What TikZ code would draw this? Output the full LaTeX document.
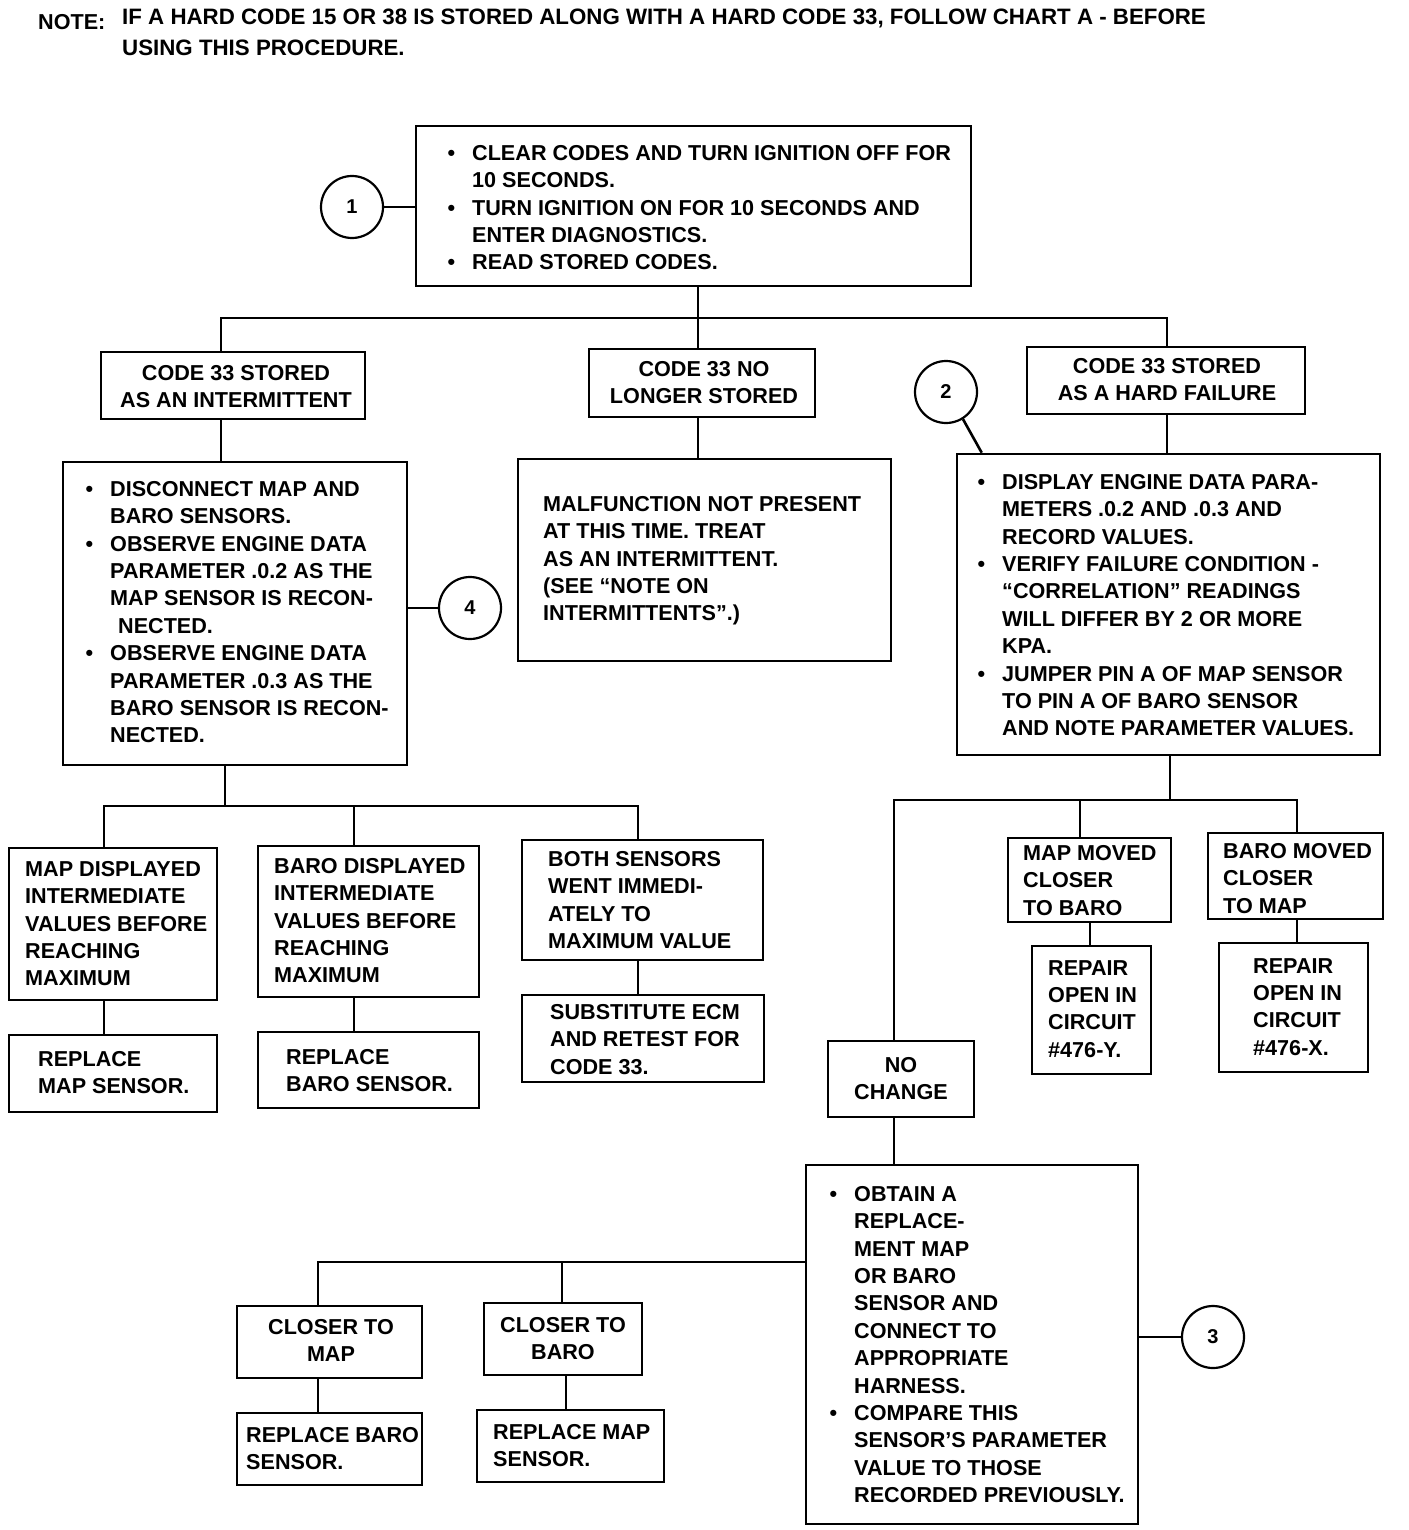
\documentclass[tikz,border=0pt]{standalone}
\usepackage{fontspec}
\setmainfont{Liberation Sans}
\usetikzlibrary{fit}
\newcommand\bul{\llap{\textbullet\hskip 17pt}}
\begin{document}
\begin{tikzpicture}[x=1pt,y=-1pt,
  box/.style={draw, line width=2.6pt, inner sep=0pt},
  wire/.style={line width=2.6pt},
  circ/.style={draw, circle, line width=2.2pt, minimum size=62pt, inner sep=0pt, font=\fontsize{20}{24}\selectfont\bfseries},
  txt/.style={anchor=north west, inner sep=0pt, align=left, font=\fontsize{21.6}{27.4}\selectfont\bfseries},
  ctxt/.style={anchor=north, inner sep=0pt, align=center, font=\fontsize{21.6}{27.4}\selectfont\bfseries}]
\useasboundingbox (0,0) rectangle (1408,1530);
\fill[white] (0,0) rectangle (1408,1530);

% note
\node[txt] (noteA) at (38,14) {NOTE:};
\node[txt, font=\fontsize{22.3}{31}\selectfont\bfseries] (noteB) at (122,9) {IF A HARD CODE 15 OR 38 IS STORED ALONG WITH A HARD CODE 33, FOLLOW CHART A - BEFORE\\USING THIS PROCEDURE.};

% top
\node[box, fit={(416,126) (971,286)}] (top) {};
\node[txt] (topT) at (472,145) {\bul CLEAR CODES AND TURN IGNITION OFF FOR\\10 SECONDS.\\\bul TURN IGNITION ON FOR 10 SECONDS AND\\ENTER DIAGNOSTICS.\\\bul READ STORED CODES.};
\node[circ] (c1) at (352,207) {1};

% level 1
\node[box, fit={(101,352) (365,419)}] (a1) {};
\node[ctxt] (a1T) at (236,365) {CODE 33 STORED\\AS AN INTERMITTENT};
\node[box, fit={(589,349) (815,417)}] (m1) {};
\node[ctxt] (m1T) at (704,361) {CODE 33 NO\\LONGER STORED};
\node[box, fit={(1027,347) (1305,414)}] (r1) {};
\node[ctxt] (r1T) at (1167,358) {CODE 33 STORED\\AS A HARD FAILURE};
\node[circ] (c2) at (946,392) {2};

% level 2
\node[box, fit={(63,462) (407,765)}] (a2) {};
\node[txt] (a2T) at (110,481) {\bul DISCONNECT MAP AND\\BARO SENSORS.\\\bul OBSERVE ENGINE DATA\\PARAMETER .0.2 AS THE\\MAP SENSOR IS RECON-\\\hskip 8pt NECTED.\\\bul OBSERVE ENGINE DATA\\PARAMETER .0.3 AS THE\\BARO SENSOR IS RECON-\\NECTED.};
\node[circ] (c4) at (470,608) {4};

\node[box, fit={(518,459) (891,661)}] (m2) {};
\node[txt] (m2T) at (543,496) {MALFUNCTION NOT PRESENT\\AT THIS TIME. TREAT\\AS AN INTERMITTENT.\\(SEE ``NOTE ON\\INTERMITTENTS''.)};

\node[box, fit={(957,454) (1380,755)}] (r2) {};
\node[txt] (r2T) at (1002,474) {\bul DISPLAY ENGINE DATA PARA-\\METERS .0.2 AND .0.3 AND\\RECORD VALUES.\\\bul VERIFY FAILURE CONDITION -\\``CORRELATION'' READINGS\\WILL DIFFER BY 2 OR MORE\\KPA.\\\bul JUMPER PIN A OF MAP SENSOR\\TO PIN A OF BARO SENSOR\\AND NOTE PARAMETER VALUES.};

% level 3 left
\node[box, fit={(9,848) (217,1000)}] (b1) {};
\node[txt] (b1T) at (25,861) {MAP DISPLAYED\\INTERMEDIATE\\VALUES BEFORE\\REACHING\\MAXIMUM};
\node[box, fit={(258,846) (479,997)}] (b2) {};
\node[txt] (b2T) at (274,858) {BARO DISPLAYED\\INTERMEDIATE\\VALUES BEFORE\\REACHING\\MAXIMUM};
\node[box, fit={(522,840) (763,960)}] (b3) {};
\node[txt] (b3T) at (548,851) {BOTH SENSORS\\WENT IMMEDI-\\ATELY TO\\MAXIMUM VALUE};

\node[box, fit={(9,1035) (217,1112)}] (d1) {};
\node[txt] (d1T) at (38,1051) {REPLACE\\MAP SENSOR.};
\node[box, fit={(258,1032) (479,1108)}] (d2) {};
\node[txt] (d2T) at (286,1049) {REPLACE\\BARO SENSOR.};
\node[box, fit={(522,995) (764,1082)}] (d3) {};
\node[txt] (d3T) at (550,1004) {SUBSTITUTE ECM\\AND RETEST FOR\\CODE 33.};

% level 3 right
\node[box, fit={(1008,838) (1171,922)}] (s1) {};
\node[txt] (s1T) at (1023,845) {MAP MOVED\\CLOSER\\TO BARO};
\node[box, fit={(1208,833) (1383,919)}] (s2) {};
\node[txt] (s2T) at (1223,843) {BARO MOVED\\CLOSER\\TO MAP};
\node[box, fit={(1032,946) (1151,1074)}] (t1) {};
\node[txt] (t1T) at (1048,960) {REPAIR\\OPEN IN\\CIRCUIT\\\#476-Y.};
\node[box, fit={(1219,943) (1368,1072)}] (t2) {};
\node[txt] (t2T) at (1253,958) {REPAIR\\OPEN IN\\CIRCUIT\\\#476-X.};

\node[box, fit={(828,1041) (974,1117)}] (nc) {};
\node[ctxt] (ncT) at (901,1057) {NO\\CHANGE};

\node[box, fit={(806,1165) (1138,1524)}] (r5) {};
\node[txt] (r5T) at (854,1186) {\bul OBTAIN A\\REPLACE-\\MENT MAP\\OR BARO\\SENSOR AND\\CONNECT TO\\APPROPRIATE\\HARNESS.\\\bul COMPARE THIS\\SENSOR'S PARAMETER\\VALUE TO THOSE\\RECORDED PREVIOUSLY.};
\node[circ] (c3) at (1213,1337) {3};

\node[box, fit={(237,1306) (422,1378)}] (e1) {};
\node[ctxt] (e1T) at (331,1319) {CLOSER TO\\MAP};
\node[box, fit={(484,1303) (642,1375)}] (e2) {};
\node[ctxt] (e2T) at (563,1317) {CLOSER TO\\BARO};
\node[box, fit={(237,1413) (422,1485)}] (f1) {};
\node[txt] (f1T) at (246,1427) {REPLACE BARO\\SENSOR.};
\node[box, fit={(477,1410) (664,1482)}] (f2) {};
\node[txt] (f2T) at (493,1424) {REPLACE MAP\\SENSOR.};

% junction coordinates
\coordinate (jT) at (698,318);
\coordinate (jTL) at (221,318);
\coordinate (jTR) at (1167,318);
\coordinate (jL) at (225,806);
\coordinate (jLa) at (104,806);
\coordinate (jLb) at (354,806);
\coordinate (jLc) at (638,806);
\coordinate (jR) at (1170,800);
\coordinate (jRa) at (894,800);
\coordinate (jRb) at (1080,800);
\coordinate (jRc) at (1297,800);
\coordinate (jB) at (806,1262);
\coordinate (jBa) at (318,1262);
\coordinate (jBb) at (562,1262);
\coordinate (xT1) at (1090,0);
\coordinate (xF2) at (566,0);

% connectors
\draw[wire] (c1.east) -- (c1.east -| top.west);
\draw[wire] (top.south -| jT) -- (jT);
\draw[wire] (a1.north -| jTL) -- (jTL) -- (jTR) -- (r1.north -| jTR);
\draw[wire] (jT) -- (m1.north -| jT);
\draw[wire] (a1.south -| jTL) -- (a2.north -| jTL);
\draw[wire] (m1.south -| jT) -- (m2.north -| jT);
\draw[wire] (r1.south -| jTR) -- (r2.north -| jTR);
\draw[wire] (c2.-58) -- ([xshift=26pt]r2.north west);
\draw[wire] (c4.west) -- (c4.west -| a2.east);
\draw[wire] (a2.south -| jL) -- (jL);
\draw[wire] (b1.north -| jLa) -- (jLa) -- (jLc) -- (b3.north -| jLc);
\draw[wire] (jLb) -- (b2.north -| jLb);
\draw[wire] (b1.south -| jLa) -- (d1.north -| jLa);
\draw[wire] (b2.south -| jLb) -- (d2.north -| jLb);
\draw[wire] (b3.south -| jLc) -- (d3.north -| jLc);
\draw[wire] (r2.south -| jR) -- (jR);
\draw[wire] (nc.north -| jRa) -- (jRa) -- (jRc) -- (s2.north -| jRc);
\draw[wire] (jRb) -- (s1.north -| jRb);
\draw[wire] (s1.south -| xT1) -- (t1.north -| xT1);
\draw[wire] (s2.south -| jRc) -- (t2.north -| jRc);
\draw[wire] (nc.south -| jRa) -- (r5.north -| jRa);
\draw[wire] (c3.west) -- (c3.west -| r5.east);
\draw[wire] (jB) -- (jBa) -- (e1.north -| jBa);
\draw[wire] (jBb) -- (e2.north -| jBb);
\draw[wire] (e1.south -| jBa) -- (f1.north -| jBa);
\draw[wire] (e2.south -| xF2) -- (f2.north -| xF2);
\end{tikzpicture}
\end{document}
